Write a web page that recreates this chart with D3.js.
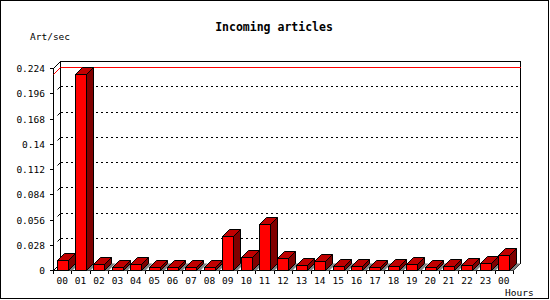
<!DOCTYPE html>
<html>
<head>
<meta charset="utf-8">
<script src="https://cdn.jsdelivr.net/npm/d3@7"></script>
<style>
  body { margin: 0; background: #fff; }
  text { font-family: "DejaVu Sans Mono", monospace; fill: #000; }
</style>
</head>
<body>
<div id="chart"></div>
<script>
;(function () {

    var hours = ['00', '01', '02', '03', '04', '05', '06', '07', '08', '09', '10', '11',
                 '12', '13', '14', '15', '16', '17', '18', '19', '20', '21', '22', '23', '00'];
    var artPerSec = [0.011, 0.2177, 0.0066, 0.0033, 0.0066, 0.0035, 0.0035, 0.003, 0.0035,
                     0.0377, 0.0141, 0.0505, 0.013, 0.0055, 0.0096, 0.0044, 0.0044, 0.0033,
                     0.0044, 0.0066, 0.0028, 0.0044, 0.0055, 0.0077, 0.0166];
    var yTicks = [0, 0.028, 0.056, 0.084, 0.112, 0.14, 0.168, 0.196, 0.224];
    var yTickLabels = ['0', '0.028', '0.056', '0.084', '0.112', '0.14', '0.168', '0.196', '0.224'];

    var width = 550
        , height = 300
        , depth = 7
        , left = 53
        , right = 513
        , bottom = 270
        , top = 68;

    var svg = d3.select('#chart').append('svg')
        .attr('width', width)
        .attr('height', height);

    var x = d3.scaleBand()
        .domain(d3.range(hours.length))
        .range([left, right])
        .paddingInner(0.4)
        .paddingOuter(0.2);

    var y = d3.scaleLinear()
        .domain([0, 0.224])
        .range([bottom, top]);

    var maxVal = d3.max(artPerSec);

    function px(v) { return Math.round(v) + 0.5; }

    // outer frame
    svg.append('rect')
        .attr('x', 0.5).attr('y', 0.5)
        .attr('width', 548).attr('height', 298)
        .attr('fill', 'none').attr('stroke', '#000');

    // titles
    svg.append('text')
        .attr('x', 274).attr('y', 31)
        .attr('text-anchor', 'middle')
        .style('font-weight', 'bold')
        .style('font-size', '11.5px')
        .text('Incoming articles');
    svg.append('text')
        .attr('x', 30).attr('y', 40)
        .style('font-size', '9.5px')
        .text('Art/sec');
    svg.append('text')
        .attr('x', 505).attr('y', 296)
        .style('font-size', '9.5px')
        .text('Hours');

    var g = svg.append('g');

    // back wall gridlines (dotted) and side diagonals
    yTicks.forEach(function (t, i) {
        var yf = px(y(t));
        if (i > 0 && i < yTicks.length - 1) {
            g.append('line')
                .attr('x1', left + depth + 0.5).attr('x2', right + depth + 0.5)
                .attr('y1', yf - depth).attr('y2', yf - depth)
                .attr('stroke', '#000').attr('stroke-dasharray', '2,3')
                .attr('shape-rendering', 'crispEdges');
            g.append('line')
                .attr('x1', left + 4.5).attr('y1', yf - 4)
                .attr('x2', left + depth + 0.5).attr('y2', yf - depth)
                .attr('stroke', '#000');
        }
        // front tick and label
        g.append('line')
            .attr('x1', left - 3).attr('x2', left + 0.5)
            .attr('y1', yf).attr('y2', yf)
            .attr('stroke', '#000').attr('shape-rendering', 'crispEdges');
        g.append('text')
            .attr('x', 45).attr('y', yf + 3.5)
            .attr('text-anchor', 'end')
            .style('font-size', '9.5px')
            .text(yTickLabels[i]);
    });

    // back wall frame
    var bx0 = left + depth + 0.5, bx1 = right + depth + 0.5;
    var by0 = px(y(0.224)) - depth, by1 = px(y(0)) - depth;
    g.append('path')
        .attr('d', 'M' + bx0 + ',' + by1 + 'V' + by0 + 'H' + bx1 + 'V' + by1)
        .attr('fill', 'none').attr('stroke', '#000')
        .attr('shape-rendering', 'crispEdges');

    // front axes and corner diagonals
    g.append('path')
        .attr('d', 'M' + (left + 0.5) + ',' + px(y(0.224)) + 'V' + px(y(0)) + 'H' + (right + 0.5))
        .attr('fill', 'none').attr('stroke', '#000')
        .attr('shape-rendering', 'crispEdges');
    g.append('path')
        .attr('d', 'M' + (left + 0.5) + ',' + px(y(0.224)) + 'L' + bx0 + ',' + by0 +
                   'M' + (left + 0.5) + ',' + px(y(0)) + 'L' + bx0 + ',' + by1 +
                   'M' + (right + 0.5) + ',' + px(y(0)) + 'L' + bx1 + ',' + by1)
        .attr('fill', 'none').attr('stroke', '#000');

    // max line in red on the back wall
    var ym = px(y(maxVal));
    g.append('line')
        .attr('x1', bx0).attr('x2', bx1)
        .attr('y1', ym - depth).attr('y2', ym - depth)
        .attr('stroke', '#f00').attr('shape-rendering', 'crispEdges');
    g.append('line')
        .attr('x1', left + 0.5).attr('y1', ym)
        .attr('x2', bx0).attr('y2', ym - depth)
        .attr('stroke', '#f00');

    // x ticks at band boundaries
    var step = x.step();
    d3.range(hours.length + 1).forEach(function (i) {
        var xt = px(left + i * step);
        g.append('line')
            .attr('x1', xt).attr('x2', xt)
            .attr('y1', bottom).attr('y2', bottom + 4)
            .attr('stroke', '#000').attr('shape-rendering', 'crispEdges');
    });

    // x labels
    g.selectAll('.xlabel')
        .data(hours)
        .enter().append('text')
        .attr('class', 'xlabel')
        .attr('x', function (d, i) { return x(i) + x.bandwidth() / 2; })
        .attr('y', 284)
        .attr('text-anchor', 'middle')
        .style('font-size', '9.5px')
        .text(function (d) { return d; });

    // floor shadows
    var bw = Math.round(x.bandwidth());
    var y0 = px(y(0));
    g.selectAll('.shadow')
        .data(artPerSec)
        .enter().append('path')
        .attr('class', 'shadow')
        .attr('d', function (d, i) {
            var x0 = px(x(i)) + 4, x1 = x0 + bw;
            return 'M' + x0 + ',' + y0 + 'L' + x1 + ',' + y0 +
                'L' + (x1 + depth) + ',' + (y0 - depth) + 'L' + (x0 + depth) + ',' + (y0 - depth) + 'Z';
        })
        .attr('fill', '#808080');

    // 3D bars
    var bars = g.selectAll('.bar')
        .data(artPerSec)
        .enter().append('g')
        .attr('class', 'bar');

    function face(pts) {
        return 'M' + pts.map(function (p) { return p[0] + ',' + p[1]; }).join('L') + 'Z';
    }

    bars.append('path')
        .attr('d', function (d, i) {
            var x0 = px(x(i)), x1 = x0 + bw, yt = px(y(d));
            return face([[x1, yt], [x1 + depth, yt - depth], [x1 + depth, y0 - depth], [x1, y0]]);
        })
        .attr('fill', '#800000').attr('stroke', '#000');

    bars.append('path')
        .attr('d', function (d, i) {
            var x0 = px(x(i)), x1 = x0 + bw, yt = px(y(d));
            return face([[x0, yt], [x0 + depth, yt - depth], [x1 + depth, yt - depth], [x1, yt]]);
        })
        .attr('fill', '#c00000').attr('stroke', '#000');

    bars.append('path')
        .attr('d', function (d, i) {
            var x0 = px(x(i)), x1 = x0 + bw, yt = px(y(d));
            return face([[x0, yt], [x1, yt], [x1, y0], [x0, y0]]);
        })
        .attr('fill', '#ff0000').attr('stroke', '#000')
        .attr('shape-rendering', 'crispEdges');

}());
</script>
</body>
</html>
